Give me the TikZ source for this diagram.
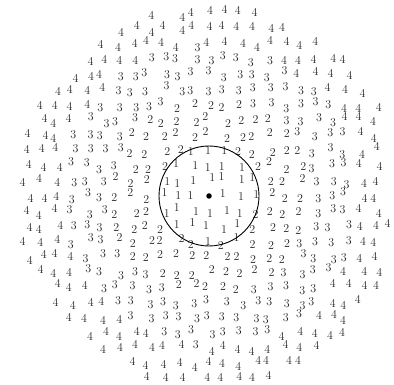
\documentclass[tikz,border=0pt]{standalone}
\begin{document}
\begin{tikzpicture}[x=1pt,y=1pt,
  lab/.style={inner sep=0pt, font=\fontsize{12}{12}\selectfont, text=black!85},
  ring/.style={circle, draw, line width=0.9pt, minimum size=100pt, inner sep=0pt},
  centre/.style={circle, fill, inner sep=0pt, minimum size=5.5pt}]
\useasboundingbox (0,0) rectangle (394,385);
\pgfmathsetseed{4242}
\foreach \i in {-13,...,13}{
  \foreach \j in {-13,...,13}{
    \pgfmathsetmacro\xx{\i*15.2+8*(rnd-0.5)}
    \pgfmathsetmacro\yy{\j*15.2+8*(rnd-0.5)}
    \pgfmathsetmacro\rr{veclen(\xx,\yy)}
    \pgfmathtruncatemacro\kk{max(1,ceil(\rr/50))}
    \pgfmathtruncatemacro\ok{(\rr<192) && (\rr>5) && (\xx<179) && (\yy>-182) ? 1 : 0}
    \ifnum\ok=1
      \node[lab] (p\i x\j) at ({209+\xx},{189+\yy}) {\kk};
    \fi
  }
}
\node[ring] (c) at (209,189) {};
\node[centre] (o) at (209,189) {};
\end{tikzpicture}
\end{document}
